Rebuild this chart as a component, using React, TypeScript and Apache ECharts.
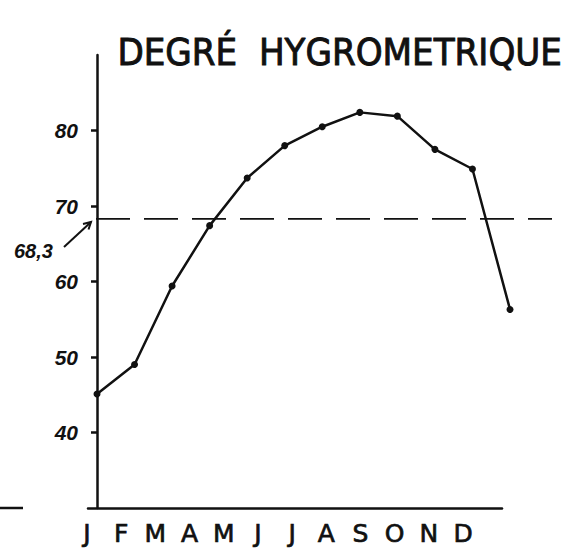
import React, { useEffect, useRef } from "react";
import * as echarts from "echarts";

const MONTHS = ["J", "F", "M", "A", "M", "J", "J", "A", "S", "O", "N", "D"];
const HUMIDITY = [45.1, 49.0, 59.4, 67.4, 73.7, 78.0, 80.5, 82.4, 81.9, 77.5, 74.9, 56.3];
const Y_TICKS = [40, 50, 60, 70, 80];
const Y_MIN = 30;
const Y_MAX = 90;
const MEAN = 68.3;
const MEAN_LABEL = "68,3";
const TITLE = "DEGRÉ  HYGROMETRIQUE";

const INK = "#111";
const TOP = 55;
const HEIGHT = 453;

export default function App() {
  const ref = useRef<HTMLDivElement>(null);

  useEffect(() => {
    if (!ref.current) return;
    const chart = echarts.init(ref.current, undefined, { renderer: "svg" });
    const hiddenY = (gridIndex: number) => ({
      type: "value",
      gridIndex,
      min: Y_MIN,
      max: Y_MAX,
      show: false,
    });
    chart.setOption({
      animation: false,
      backgroundColor: "#fff",
      grid: [
        { left: 97, top: TOP, width: 413, height: HEIGHT },
        { left: 87, top: TOP, width: 376, height: HEIGHT },
        { left: 88, top: TOP, width: 414, height: HEIGHT },
        { left: 96, top: TOP, width: 456, height: HEIGHT },
      ],
      xAxis: [
        {
          type: "category",
          gridIndex: 0,
          data: MONTHS,
          boundaryGap: false,
          axisLine: { show: false },
          axisTick: { show: false },
          axisLabel: { show: false },
          splitLine: { show: false },
        },
        {
          type: "category",
          gridIndex: 1,
          data: MONTHS,
          boundaryGap: false,
          axisLine: { show: false },
          axisTick: { show: false },
          axisLabel: {
            show: true,
            interval: 0,
            margin: 13,
            color: INK,
            fontFamily: "DejaVu Sans",
            fontSize: 25,
            textBorderColor: INK,
            textBorderWidth: 0.7,
          },
          splitLine: { show: false },
        },
        {
          type: "value",
          gridIndex: 2,
          min: 0,
          max: 1,
          axisLine: { show: true, onZero: false, lineStyle: { color: INK, width: 2.5 } },
          axisTick: { show: false },
          axisLabel: { show: false },
          splitLine: { show: false },
        },
        {
          type: "value",
          gridIndex: 3,
          min: 0,
          max: 1,
          show: false,
        },
      ],
      yAxis: [
        {
          type: "value",
          gridIndex: 0,
          min: Y_MIN,
          max: Y_MAX,
          interval: 10,
          axisLine: { show: true, lineStyle: { color: INK, width: 2.5 } },
          axisTick: {
            show: true,
            length: 6,
            customValues: Y_TICKS,
            lineStyle: { color: INK, width: 2.5 },
          },
          axisLabel: {
            show: true,
            customValues: Y_TICKS,
            margin: 19,
            color: INK,
            fontFamily: "Liberation Sans",
            fontWeight: "bold",
            fontStyle: "italic",
            fontSize: 21,
          },
          splitLine: { show: false },
        },
        hiddenY(1),
        hiddenY(2),
        hiddenY(3),
      ],
      series: [
        {
          type: "line",
          xAxisIndex: 0,
          yAxisIndex: 0,
          data: HUMIDITY,
          symbol: "circle",
          symbolSize: 7,
          itemStyle: { color: INK },
          lineStyle: { color: INK, width: 2.5 },
        },
        {
          type: "line",
          xAxisIndex: 3,
          yAxisIndex: 3,
          data: [
            [0, MEAN],
            [1, MEAN],
          ],
          showSymbol: false,
          symbol: "none",
          lineStyle: { color: INK, width: 1.8, type: [34, 14] },
        },
      ],
      graphic: [
        {
          type: "text",
          left: 117,
          top: 32,
          scaleX: 0.9,
          style: {
            text: TITLE,
            fill: INK,
            stroke: INK,
            lineWidth: 1,
            font: "38px 'DejaVu Sans'",
          },
        },
        {
          type: "text",
          left: 14,
          top: 241,
          style: {
            text: MEAN_LABEL,
            fill: INK,
            font: "italic bold 20px 'Liberation Sans'",
          },
        },
        {
          type: "line",
          shape: { x1: 64, y1: 247, x2: 91, y2: 222 },
          style: { stroke: INK, lineWidth: 2 },
        },
        {
          type: "polyline",
          shape: {
            points: [
              [83, 224],
              [91, 222],
              [88.5, 229.5],
            ],
          },
          style: { stroke: INK, lineWidth: 2, fill: "none" },
        },
        {
          type: "line",
          shape: { x1: 0, y1: 508, x2: 23, y2: 508 },
          style: { stroke: INK, lineWidth: 2.5 },
        },
      ],
    });
    return () => chart.dispose();
  }, []);

  return (
    <div
      ref={ref}
      style={{ position: "fixed", left: 0, top: 0, width: 573, height: 548, background: "#fff" }}
    />
  );
}
